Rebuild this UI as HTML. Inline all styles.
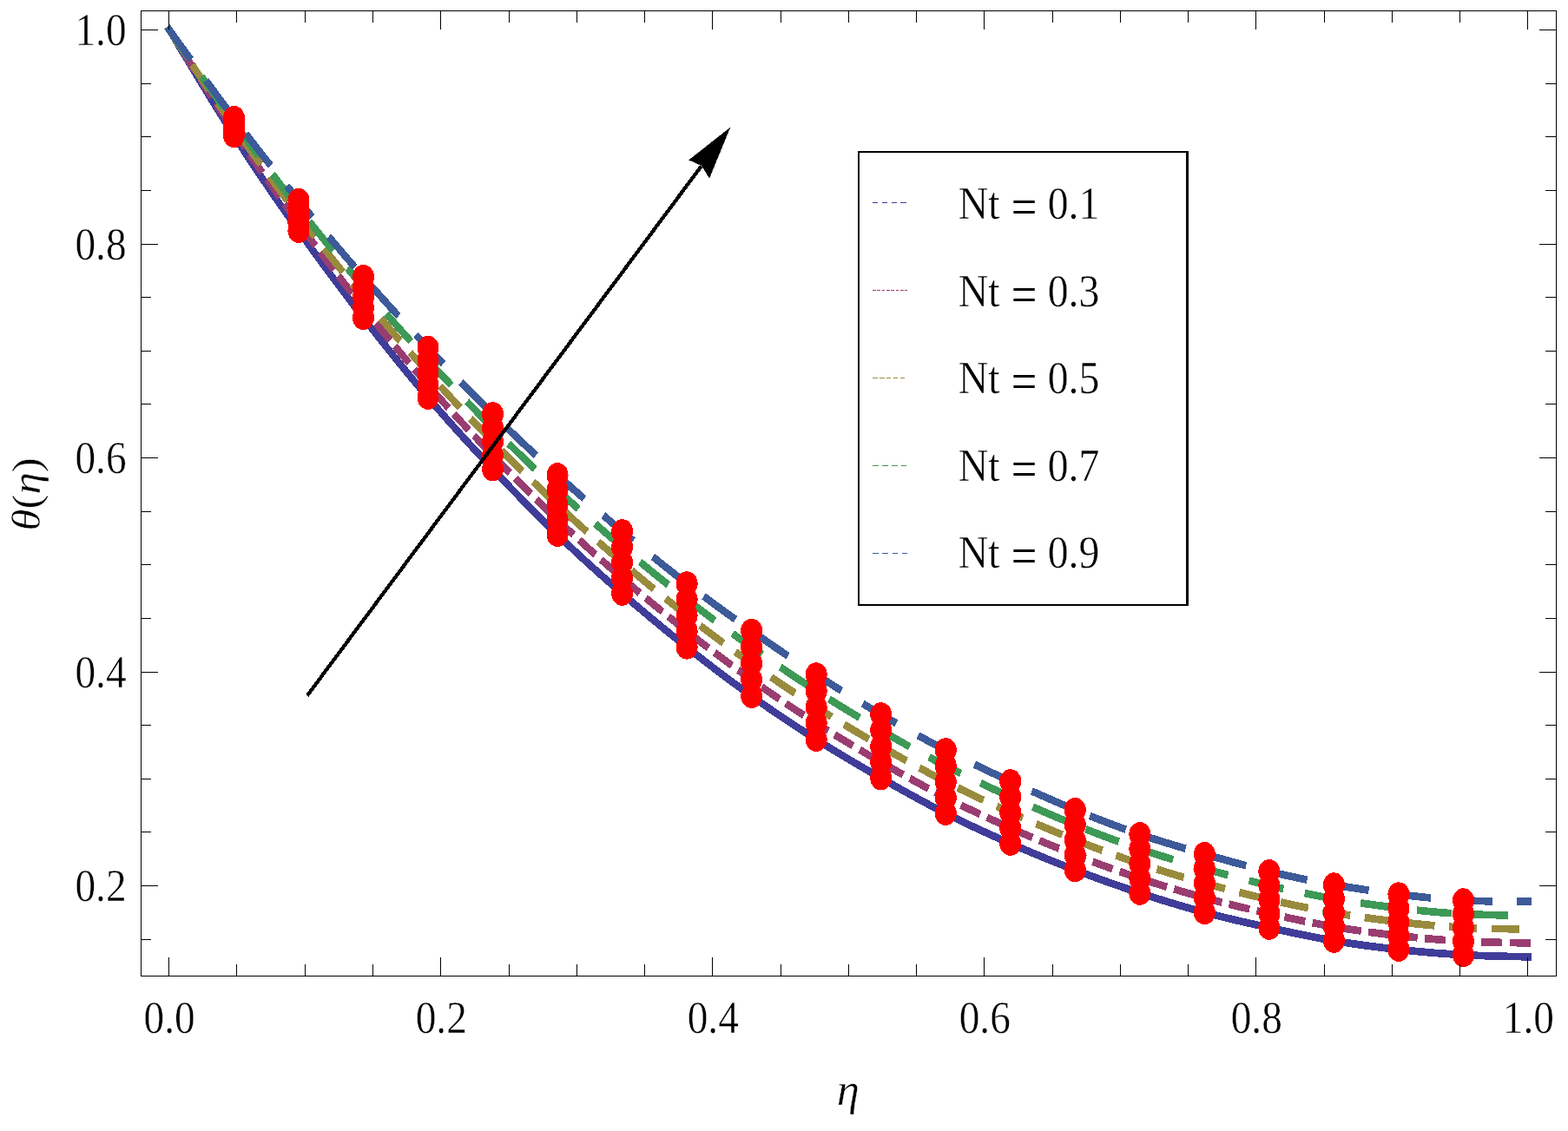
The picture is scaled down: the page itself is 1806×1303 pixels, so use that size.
<!DOCTYPE html>
<html lang="en"><head><meta charset="utf-8">
<style>
html,body{margin:0;padding:0;background:#fff;}
body{width:1806px;height:1303px;overflow:hidden;font-family:"Liberation Serif","DejaVu Serif",serif;}
svg{display:block;}
</style></head><body>
<svg width="1806" height="1303" viewBox="0 0 1806 1303">
<rect width="1806" height="1303" fill="#fff"/>
<g transform="scale(0.9,1)">
<g fill="none" stroke-linecap="butt" stroke-linejoin="round" shape-rendering="crispEdges" stroke-width="8.7">
<path stroke="#3F3D99" d="M214.14 30.68 L218.77 37.62 L220.99 40.95 L223.20 44.27 L225.42 47.60 L227.63 50.92 L229.85 54.25 L232.07 57.57 L234.29 60.89 L236.51 64.21 L238.73 67.53 L240.95 70.85 L243.17 74.17 L245.40 77.49 L247.63 80.81 L249.85 84.12 L252.09 87.43 L254.32 90.75 L256.56 94.06 L258.80 97.37 L261.04 100.67 L263.28 103.98 L265.53 107.28 L267.78 110.58 L270.03 113.88 L272.29 117.17 L274.55 120.47 L276.82 123.76 L279.09 127.05 L281.36 130.33 L283.64 133.61 L285.92 136.89 L288.21 140.17 L290.50 143.44 L292.79 146.71 L295.10 149.97 L297.40 153.24 L299.72 156.49 L302.03 159.75 L304.36 163.00 L306.69 166.24 L309.03 169.48 L311.37 172.72 L313.71 175.95 L316.07 179.18 L318.42 182.40 L320.79 185.62 L323.16 188.84 L325.53 192.05 L327.91 195.26 L330.30 198.47 L332.69 201.67 L335.08 204.87 L337.48 208.06 L339.89 211.25 L342.30 214.43 L344.71 217.62 L347.13 220.80 L349.56 223.97 L351.99 227.14 L354.42 230.31 L356.86 233.47 L359.30 236.63 L361.75 239.79 L364.20 242.94 L366.66 246.09 L369.12 249.24 L371.58 252.39 L374.05 255.53 L376.53 258.66 L379.00 261.80 L381.48 264.93 L383.97 268.06 L386.46 271.18 L388.95 274.30 L391.44 277.42 L393.94 280.54 L396.45 283.65 L398.95 286.76 L401.46 289.87 L403.98 292.97 L406.50 296.08 L409.02 299.17 L411.54 302.27 L414.07 305.36 L416.61 308.45 L419.14 311.54 L421.69 314.62 L424.23 317.70 L426.78 320.77 L429.33 323.85 L431.89 326.92 L434.45 329.98 L437.01 333.05 L439.58 336.11 L442.15 339.17 L444.72 342.22 L447.30 345.27 L449.88 348.32 L452.47 351.37 L455.06 354.41 L457.65 357.45 L460.25 360.48 L462.85 363.51 L465.45 366.54 L468.06 369.57 L470.67 372.59 L473.29 375.61 L475.91 378.63 L478.53 381.64 L481.16 384.65 L483.79 387.65 L486.43 390.66 L489.07 393.65 L491.71 396.65 L494.36 399.64 L497.01 402.62 L499.67 405.61 L502.33 408.58 L505.00 411.56 L507.67 414.53 L510.35 417.49 L513.03 420.45 L515.72 423.41 L518.41 426.36 L521.10 429.31 L523.81 432.25 L526.51 435.19 L529.23 438.12 L531.94 441.05 L534.67 443.97 L537.40 446.89 L540.13 449.80 L542.87 452.71 L545.62 455.61 L548.37 458.50 L551.13 461.39 L553.89 464.28 L556.66 467.15 L559.43 470.02 L562.21 472.89 L564.99 475.74 L567.78 478.59 L570.57 481.44 L573.37 484.28 L576.17 487.12 L578.98 489.95 L581.80 492.78 L584.61 495.60 L587.44 498.41 L590.27 501.23 L593.10 504.03 L595.94 506.83 L598.78 509.63 L601.63 512.42 L604.48 515.21 L607.33 518.00 L610.19 520.78 L613.06 523.55 L615.92 526.32 L618.79 529.09 L621.67 531.86 L624.55 534.62 L627.43 537.37 L630.32 540.13 L633.20 542.88 L636.10 545.62 L638.99 548.36 L641.89 551.10 L644.79 553.84 L647.70 556.57 L650.61 559.29 L653.52 562.02 L656.44 564.74 L659.36 567.45 L662.29 570.16 L665.22 572.86 L668.15 575.56 L671.09 578.26 L674.04 580.95 L676.98 583.64 L679.94 586.32 L682.89 588.99 L685.85 591.66 L688.82 594.33 L691.79 596.98 L694.77 599.64 L697.75 602.28 L700.74 604.93 L703.74 607.56 L706.73 610.19 L709.74 612.81 L712.75 615.43 L715.77 618.03 L718.79 620.64 L721.81 623.23 L724.85 625.82 L727.89 628.40 L730.93 630.97 L733.98 633.54 L737.04 636.10 L740.10 638.66 L743.16 641.21 L746.24 643.75 L749.31 646.29 L752.39 648.82 L755.48 651.34 L758.57 653.86 L761.67 656.37 L764.77 658.88 L767.87 661.38 L770.99 663.88 L774.10 666.37 L777.22 668.85 L780.34 671.33 L783.47 673.80 L786.60 676.27 L789.74 678.73 L792.88 681.19 L796.02 683.64 L799.17 686.09 L802.32 688.53 L805.47 690.97 L808.63 693.40 L811.80 695.83 L814.96 698.25 L818.13 700.67 L821.31 703.09 L824.49 705.49 L827.67 707.90 L830.85 710.29 L834.04 712.69 L837.24 715.08 L840.44 717.46 L843.65 719.85 L846.86 722.22 L850.07 724.59 L853.29 726.96 L856.51 729.32 L859.73 731.67 L862.96 734.02 L866.19 736.37 L869.43 738.70 L872.67 741.04 L875.91 743.37 L879.16 745.69 L882.41 748.01 L885.66 750.32 L888.92 752.63 L892.19 754.93 L895.45 757.22 L898.72 759.51 L902.00 761.80 L905.28 764.08 L908.56 766.35 L911.85 768.62 L915.14 770.88 L918.44 773.13 L921.74 775.38 L925.04 777.62 L928.35 779.85 L931.66 782.08 L934.98 784.30 L938.30 786.51 L941.63 788.72 L944.96 790.92 L948.30 793.11 L951.64 795.30 L954.99 797.47 L958.34 799.64 L961.70 801.81 L965.06 803.96 L968.42 806.11 L971.79 808.25 L975.17 810.38 L978.55 812.50 L981.94 814.62 L985.33 816.73 L988.72 818.83 L992.12 820.92 L995.53 823.00 L998.94 825.08 L1002.35 827.15 L1005.77 829.21 L1009.20 831.26 L1012.63 833.31 L1016.06 835.35 L1019.50 837.38 L1022.94 839.40 L1026.39 841.41 L1029.84 843.42 L1033.30 845.41 L1036.76 847.40 L1040.23 849.39 L1043.70 851.36 L1047.17 853.33 L1050.65 855.28 L1054.13 857.23 L1057.62 859.18 L1061.11 861.11 L1064.61 863.04 L1068.11 864.96 L1071.61 866.88 L1075.12 868.79 L1078.63 870.69 L1082.14 872.58 L1085.66 874.47 L1089.18 876.35 L1092.71 878.23 L1096.23 880.10 L1099.76 881.97 L1103.29 883.83 L1106.83 885.69 L1110.37 887.54 L1113.91 889.38 L1117.46 891.23 L1121.00 893.07 L1124.55 894.90 L1128.11 896.73 L1131.66 898.56 L1135.22 900.38 L1138.77 902.20 L1142.34 904.02 L1145.90 905.82 L1149.46 907.63 L1153.03 909.43 L1156.61 911.22 L1160.18 913.00 L1163.76 914.78 L1167.34 916.56 L1170.93 918.32 L1174.51 920.08 L1178.11 921.83 L1181.70 923.57 L1185.30 925.30 L1188.91 927.03 L1192.52 928.74 L1196.13 930.45 L1199.75 932.14 L1203.38 933.83 L1207.00 935.50 L1210.64 937.17 L1214.28 938.82 L1217.92 940.46 L1221.57 942.09 L1225.22 943.71 L1228.88 945.32 L1232.54 946.92 L1236.21 948.50 L1239.88 950.08 L1243.56 951.65 L1247.24 953.21 L1250.92 954.76 L1254.61 956.30 L1258.30 957.83 L1262.00 959.35 L1265.69 960.87 L1269.40 962.37 L1273.10 963.87 L1276.81 965.36 L1280.52 966.84 L1284.23 968.32 L1287.95 969.79 L1291.67 971.25 L1295.39 972.70 L1299.12 974.15 L1302.84 975.59 L1306.57 977.03 L1310.30 978.46 L1314.04 979.88 L1317.78 981.30 L1321.52 982.71 L1325.26 984.11 L1329.00 985.51 L1332.75 986.89 L1336.50 988.28 L1340.25 989.65 L1344.01 991.02 L1347.76 992.38 L1351.52 993.73 L1355.29 995.08 L1359.05 996.42 L1362.82 997.75 L1366.59 999.07 L1370.36 1000.39 L1374.14 1001.70 L1377.92 1003.00 L1381.70 1004.29 L1385.48 1005.58 L1389.27 1006.86 L1393.07 1008.13 L1396.88 1009.40 L1400.68 1010.65 L1404.49 1011.90 L1408.30 1013.15 L1412.11 1014.38 L1415.93 1015.61 L1419.75 1016.83 L1423.57 1018.04 L1427.39 1019.25 L1431.22 1020.45 L1435.04 1021.63 L1438.87 1022.82 L1442.71 1023.99 L1446.54 1025.16 L1450.38 1026.32 L1454.22 1027.47 L1458.06 1028.61 L1461.90 1029.75 L1465.75 1030.87 L1469.60 1031.99 L1473.45 1033.11 L1477.30 1034.21 L1481.16 1035.31 L1485.02 1036.39 L1488.88 1037.47 L1492.74 1038.54 L1496.61 1039.60 L1500.48 1040.65 L1504.35 1041.69 L1508.22 1042.72 L1512.10 1043.74 L1515.98 1044.75 L1519.86 1045.74 L1523.74 1046.73 L1527.63 1047.71 L1531.52 1048.68 L1535.41 1049.63 L1539.31 1050.57 L1543.21 1051.51 L1547.11 1052.42 L1551.02 1053.33 L1554.92 1054.23 L1558.83 1055.12 L1562.74 1056.00 L1566.66 1056.86 L1570.57 1057.72 L1574.49 1058.57 L1578.41 1059.41 L1582.33 1060.25 L1586.25 1061.07 L1590.18 1061.89 L1594.10 1062.71 L1598.03 1063.51 L1601.96 1064.32 L1605.88 1065.11 L1609.81 1065.91 L1613.74 1066.69 L1617.67 1067.48 L1621.60 1068.26 L1625.53 1069.04 L1629.46 1069.82 L1633.39 1070.59 L1637.33 1071.36 L1641.26 1072.13 L1645.19 1072.89 L1649.13 1073.64 L1653.06 1074.40 L1657.00 1075.14 L1660.94 1075.88 L1664.88 1076.61 L1668.82 1077.33 L1672.76 1078.04 L1676.71 1078.75 L1680.65 1079.44 L1684.60 1080.13 L1688.55 1080.80 L1692.50 1081.46 L1696.46 1082.11 L1700.41 1082.75 L1704.37 1083.37 L1708.33 1083.98 L1712.30 1084.58 L1716.26 1085.16 L1720.23 1085.73 L1724.19 1086.29 L1728.16 1086.83 L1732.14 1087.36 L1736.11 1087.88 L1740.08 1088.39 L1744.06 1088.89 L1748.04 1089.37 L1752.02 1089.85 L1756.00 1090.31 L1759.98 1090.76 L1763.96 1091.21 L1767.94 1091.64 L1771.93 1092.07 L1775.91 1092.49 L1779.90 1092.90 L1783.88 1093.30 L1787.87 1093.70 L1791.86 1094.09 L1795.85 1094.47 L1799.84 1094.84 L1803.83 1095.21 L1807.82 1095.57 L1811.81 1095.92 L1815.80 1096.26 L1819.80 1096.60 L1823.79 1096.92 L1827.79 1097.24 L1831.78 1097.55 L1835.77 1097.84 L1839.76 1098.13 L1843.74 1098.41 L1847.73 1098.68 L1851.72 1098.93 L1855.71 1099.18 L1859.70 1099.41 L1863.69 1099.64 L1867.68 1099.85 L1871.67 1100.05 L1875.66 1100.24 L1879.65 1100.41 L1883.65 1100.58 L1887.64 1100.73 L1891.63 1100.88 L1895.63 1101.01 L1899.62 1101.14 L1903.61 1101.25 L1907.61 1101.36 L1911.60 1101.47 L1915.60 1101.56 L1919.59 1101.65 L1923.59 1101.74 L1927.59 1101.82 L1931.58 1101.90 L1935.58 1101.97 L1939.57 1102.04 L1943.57 1102.11 L1947.56 1102.17 L1951.56 1102.24 L1959.91 1102.37"/>
<path stroke="#993D71" d="M214.07 30.73 L218.69 37.37 L220.82 40.44 L222.96 43.50 L225.09 46.57 L227.23 49.64 L229.37 52.70 M234.73 60.39 L236.92 63.53 L239.11 66.67 L241.30 69.80 L243.49 72.93 L245.69 76.07 L247.88 79.20 L250.08 82.33 M255.47 90.00 L257.68 93.12 L259.89 96.25 L262.09 99.37 L264.31 102.49 L266.52 105.61 L268.74 108.72 L270.96 111.83 M276.42 119.46 L278.65 122.57 L280.88 125.67 L283.12 128.77 L285.36 131.87 L287.61 134.96 L289.86 138.05 L292.12 141.14 M297.67 148.70 L299.94 151.78 L302.22 154.85 L304.50 157.92 L306.78 160.98 L309.08 164.05 L311.37 167.10 L313.67 170.16 M319.34 177.63 L321.65 180.67 L323.98 183.71 L326.30 186.75 L328.63 189.78 L330.97 192.81 L333.31 195.83 L335.66 198.85 M341.42 206.25 L343.78 209.25 L346.15 212.26 L348.52 215.26 L350.89 218.26 L353.27 221.26 L355.65 224.25 L358.03 227.24 M363.90 234.56 L366.29 237.54 L368.70 240.51 L371.10 243.49 L373.51 246.46 L375.92 249.42 L378.34 252.39 L380.76 255.35 M386.71 262.60 L389.14 265.55 L391.57 268.50 L394.01 271.44 L396.45 274.39 L398.90 277.33 L401.35 280.26 L403.80 283.20 M409.83 290.38 L412.29 293.31 L414.76 296.23 L417.23 299.15 L419.70 302.07 L422.18 304.98 L424.66 307.89 L427.14 310.80 M433.25 317.91 L435.74 320.81 L438.24 323.71 L440.75 326.60 L443.25 329.49 L445.76 332.37 L448.27 335.25 L450.79 338.13 M456.97 345.18 L459.50 348.05 L462.03 350.92 L464.57 353.78 L467.11 356.64 L469.65 359.50 L472.19 362.35 L474.74 365.20 M481.01 372.18 L483.57 375.02 L486.13 377.86 L488.70 380.69 L491.28 383.52 L493.85 386.34 L496.43 389.17 L499.02 391.99 M505.37 398.88 L507.97 401.69 L510.57 404.49 L513.18 407.29 L515.79 410.08 L518.40 412.87 L521.02 415.66 L523.65 418.44 M530.10 425.24 L532.74 428.01 L535.38 430.78 L538.03 433.53 L540.68 436.29 L543.34 439.04 L546.00 441.78 L548.67 444.52 M555.23 451.22 L557.91 453.94 L560.59 456.66 L563.28 459.37 L565.98 462.08 L568.67 464.78 L571.38 467.47 L574.08 470.17 M580.74 476.75 L583.46 479.43 L586.19 482.10 L588.92 484.77 L591.65 487.43 L594.39 490.09 L597.13 492.75 L599.88 495.40 M606.63 501.89 L609.39 504.53 L612.15 507.16 L614.92 509.79 L617.69 512.42 L620.46 515.04 L623.24 517.66 L626.02 520.28 M632.85 526.67 L635.64 529.28 L638.44 531.88 L641.24 534.47 L644.04 537.07 L646.84 539.66 L649.65 542.24 L652.47 544.82 M659.38 551.13 L662.21 553.70 L665.03 556.26 L667.87 558.82 L670.71 561.37 L673.55 563.92 L676.39 566.47 L679.24 569.01 M686.25 575.22 L689.11 577.74 L691.98 580.26 L694.85 582.78 L697.73 585.28 L700.61 587.79 L703.50 590.29 L706.39 592.78 M713.49 598.87 L716.40 601.34 L719.31 603.81 L722.23 606.27 L725.15 608.73 L728.08 611.18 L731.01 613.63 L733.94 616.07 M741.16 622.03 L744.11 624.45 L747.06 626.87 L750.02 629.28 L752.98 631.69 L755.95 634.09 L758.92 636.49 L761.90 638.88 M769.21 644.72 L772.20 647.09 L775.19 649.46 L778.19 651.83 L781.19 654.19 L784.19 656.54 L787.20 658.89 L790.21 661.24 M797.61 666.97 L800.63 669.30 L803.66 671.63 L806.69 673.95 L809.72 676.27 L812.76 678.58 L815.80 680.89 L818.84 683.19 M826.31 688.82 L829.37 691.11 L832.43 693.40 L835.49 695.68 L838.56 697.95 L841.64 700.23 L844.71 702.49 L847.79 704.76 M855.36 710.28 L858.46 712.53 L861.55 714.77 L864.65 717.01 L867.76 719.24 L870.86 721.46 L873.98 723.68 L877.09 725.90 M884.74 731.31 L887.87 733.50 L891.00 735.70 L894.14 737.88 L897.28 740.06 L900.42 742.24 L903.57 744.41 L906.72 746.57 M914.46 751.86 L917.62 754.00 L920.79 756.14 L923.96 758.28 L927.13 760.41 L930.31 762.53 L933.49 764.64 L936.68 766.76 M944.51 771.91 L947.71 774.00 L950.91 776.08 L954.12 778.16 L957.33 780.23 L960.55 782.30 L963.77 784.36 L966.99 786.41 M974.91 791.42 L978.15 793.45 L981.39 795.48 L984.64 797.50 L987.89 799.51 L991.14 801.52 L994.40 803.52 L997.66 805.51 M1005.67 810.37 L1008.94 812.34 L1012.22 814.31 L1015.51 816.27 L1018.79 818.22 L1022.08 820.16 L1025.38 822.10 L1028.68 824.03 M1036.78 828.73 L1040.09 830.64 L1043.41 832.54 L1046.73 834.43 L1050.05 836.32 L1053.38 838.20 L1056.71 840.07 L1060.05 841.94 M1068.24 846.49 L1071.59 848.33 L1074.94 850.17 L1078.30 852.00 L1081.65 853.83 L1085.01 855.65 L1088.38 857.46 L1091.75 859.27 M1100.01 863.68 L1103.39 865.48 L1106.77 867.26 L1110.15 869.04 L1113.54 870.82 L1116.92 872.60 L1120.32 874.37 L1123.71 876.13 M1132.04 880.44 L1135.44 882.19 L1138.85 883.94 L1142.25 885.68 L1145.66 887.42 L1149.07 889.15 L1152.49 890.88 L1155.90 892.60 M1164.29 896.79 L1167.72 898.49 L1171.15 900.18 L1174.59 901.87 L1178.03 903.55 L1181.47 905.22 L1184.91 906.88 L1188.36 908.54 M1196.83 912.56 L1200.30 914.18 L1203.77 915.80 L1207.24 917.41 L1210.71 919.00 L1214.19 920.59 L1217.68 922.17 L1221.17 923.74 M1229.74 927.54 L1233.25 929.07 L1236.76 930.60 L1240.27 932.12 L1243.78 933.63 L1247.30 935.13 L1250.82 936.62 L1254.35 938.11 M1263.01 941.72 L1266.54 943.18 L1270.08 944.63 L1273.62 946.08 L1277.17 947.52 L1280.71 948.95 L1284.26 950.38 L1287.82 951.80 M1296.53 955.27 L1300.09 956.67 L1303.65 958.07 L1307.22 959.46 L1310.78 960.85 L1314.35 962.23 L1317.92 963.61 L1321.49 964.98 M1330.26 968.31 L1333.84 969.66 L1337.42 971.01 L1341.00 972.35 L1344.59 973.68 L1348.18 975.00 L1351.77 976.32 L1355.36 977.63 M1364.19 980.82 L1367.79 982.11 L1371.39 983.39 L1375.00 984.66 L1378.61 985.93 L1382.22 987.19 L1385.84 988.44 L1389.46 989.69 M1398.36 992.72 L1402.00 993.94 L1405.64 995.15 L1409.28 996.36 L1412.93 997.56 L1416.57 998.75 L1420.22 999.94 L1423.88 1001.12 M1432.84 1003.97 L1436.50 1005.12 L1440.17 1006.26 L1443.83 1007.39 L1447.50 1008.52 L1451.17 1009.64 L1454.84 1010.75 L1458.52 1011.85 M1467.54 1014.51 L1471.23 1015.58 L1474.91 1016.65 L1478.60 1017.71 L1482.30 1018.75 L1485.99 1019.79 L1489.69 1020.82 L1493.38 1021.85 M1502.46 1024.32 L1506.17 1025.31 L1509.88 1026.30 L1513.59 1027.27 L1517.30 1028.24 L1521.02 1029.20 L1524.74 1030.15 L1528.46 1031.09 M1537.59 1033.37 L1541.31 1034.28 L1545.04 1035.18 L1548.77 1036.08 L1552.51 1036.96 L1556.24 1037.84 L1559.98 1038.71 L1563.72 1039.58 M1572.89 1041.66 L1576.64 1042.50 L1580.39 1043.33 L1584.13 1044.15 L1587.88 1044.97 L1591.63 1045.78 L1595.39 1046.59 L1599.14 1047.38 M1608.35 1049.32 L1612.11 1050.10 L1615.86 1050.87 L1619.62 1051.64 L1623.38 1052.41 L1627.14 1053.17 L1630.90 1053.93 L1634.66 1054.68 M1643.89 1056.50 L1647.65 1057.23 L1651.42 1057.95 L1655.19 1058.67 L1658.96 1059.38 L1662.73 1060.09 L1666.50 1060.78 L1670.27 1061.47 M1679.53 1063.12 L1683.31 1063.78 L1687.09 1064.43 L1690.88 1065.06 L1694.66 1065.69 L1698.45 1066.31 L1702.23 1066.91 L1706.02 1067.50 M1715.32 1068.91 L1719.12 1069.46 L1722.92 1070.01 L1726.72 1070.54 L1730.52 1071.06 L1734.32 1071.57 L1738.12 1072.07 L1741.93 1072.56 M1751.26 1073.72 L1755.07 1074.18 L1758.88 1074.63 L1762.69 1075.07 L1766.50 1075.50 L1770.31 1075.93 L1774.12 1076.34 L1777.94 1076.75 M1787.29 1077.73 L1791.11 1078.12 L1794.93 1078.50 L1798.74 1078.87 L1802.56 1079.24 L1806.38 1079.60 L1810.20 1079.95 L1814.02 1080.30 M1823.39 1081.11 L1827.22 1081.43 L1831.04 1081.73 L1834.86 1082.03 L1838.67 1082.32 L1842.49 1082.59 L1846.31 1082.86 L1850.12 1083.12 M1859.49 1083.70 L1863.30 1083.92 L1867.13 1084.12 L1870.95 1084.31 L1874.77 1084.49 L1878.59 1084.66 L1882.41 1084.82 L1886.23 1084.96 M1895.61 1085.27 L1899.43 1085.39 L1903.26 1085.49 L1907.08 1085.58 L1910.91 1085.67 L1914.73 1085.75 L1918.56 1085.82 L1922.38 1085.89 M1931.76 1086.03 L1935.73 1086.09 L1939.69 1086.14 L1943.66 1086.19 L1947.62 1086.24 L1951.59 1086.28 L1958.54 1086.36"/>
<path stroke="#998B3D" d="M213.99 30.78 L218.87 37.48 L221.19 40.66 L223.50 43.84 L225.82 47.01 L228.13 50.19 L230.45 53.37 L232.77 56.55 L235.08 59.72 M245.96 74.59 L248.31 77.79 L250.66 81.00 L253.02 84.21 L255.38 87.41 L257.74 90.61 L260.10 93.81 L262.47 97.01 L264.84 100.21 L267.21 103.40 M278.23 118.16 L280.62 121.34 L283.01 124.52 L285.41 127.69 L287.81 130.86 L290.21 134.03 L292.62 137.20 L295.04 140.36 L297.46 143.52 L299.88 146.67 M311.17 161.22 L313.62 164.36 L316.08 167.48 L318.54 170.61 L321.01 173.73 L323.48 176.85 L325.95 179.96 L328.43 183.07 L330.92 186.18 L333.41 189.28 M344.99 203.60 L347.51 206.68 L350.03 209.76 L352.55 212.84 L355.08 215.91 L357.61 218.98 L360.14 222.04 L362.68 225.11 L365.23 228.16 L367.77 231.22 M379.61 245.32 L382.18 248.36 L384.76 251.40 L387.33 254.43 L389.91 257.46 L392.49 260.48 L395.08 263.51 L397.67 266.53 L400.26 269.54 L402.86 272.56 M414.93 286.46 L417.55 289.46 L420.17 292.45 L422.79 295.44 L425.42 298.43 L428.05 301.41 L430.69 304.39 L433.33 307.37 L435.97 310.34 L438.62 313.31 M450.92 327.02 L453.58 329.97 L456.25 332.92 L458.93 335.86 L461.61 338.80 L464.29 341.74 L466.98 344.68 L469.67 347.61 L472.36 350.53 L475.06 353.46 M487.59 366.95 L490.31 369.85 L493.03 372.75 L495.76 375.65 L498.49 378.54 L501.23 381.43 L503.97 384.32 L506.71 387.20 L509.46 390.07 L512.21 392.95 M525.00 406.19 L527.77 409.04 L530.55 411.89 L533.34 414.73 L536.12 417.57 L538.92 420.40 L541.71 423.23 L544.52 426.06 L547.32 428.88 L550.13 431.69 M563.19 444.65 L566.02 447.44 L568.85 450.22 L571.69 453.00 L574.54 455.77 L577.39 458.54 L580.24 461.30 L583.10 464.06 L585.96 466.81 L588.82 469.56 M602.14 482.24 L605.03 484.96 L607.92 487.68 L610.82 490.40 L613.72 493.11 L616.62 495.82 L619.53 498.53 L622.44 501.23 L625.36 503.92 L628.28 506.61 M641.84 519.02 L644.79 521.68 L647.73 524.35 L650.68 527.01 L653.64 529.66 L656.59 532.31 L659.56 534.96 L662.52 537.60 L665.49 540.24 L668.47 542.87 M682.29 554.99 L685.28 557.59 L688.29 560.19 L691.29 562.78 L694.30 565.37 L697.32 567.96 L700.34 570.54 L703.36 573.11 L706.39 575.68 L709.42 578.24 M723.52 590.04 L726.58 592.57 L729.64 595.10 L732.71 597.62 L735.78 600.14 L738.86 602.65 L741.94 605.15 L745.02 607.66 L748.11 610.15 L751.20 612.64 M765.57 624.10 L768.69 626.57 L771.80 629.03 L774.93 631.48 L778.05 633.93 L781.18 636.37 L784.32 638.81 L787.46 641.24 L790.60 643.67 L793.74 646.09 M808.34 657.25 L811.51 659.65 L814.68 662.05 L817.85 664.44 L821.03 666.82 L824.21 669.20 L827.39 671.57 L830.58 673.94 L833.77 676.30 L836.97 678.67 M851.82 689.53 L855.04 691.86 L858.27 694.18 L861.50 696.50 L864.73 698.82 L867.97 701.13 L871.21 703.43 L874.46 705.73 L877.71 708.02 L880.96 710.30 M896.08 720.80 L899.36 723.05 L902.64 725.30 L905.93 727.54 L909.22 729.77 L912.51 732.00 L915.81 734.22 L919.11 736.43 L922.42 738.64 L925.73 740.85 M941.10 750.97 L944.43 753.14 L947.76 755.30 L951.10 757.46 L954.45 759.61 L957.79 761.76 L961.14 763.90 L964.50 766.04 L967.85 768.17 L971.21 770.30 M986.82 780.05 L990.20 782.14 L993.59 784.23 L996.98 786.31 L1000.37 788.38 L1003.77 790.44 L1007.17 792.50 L1010.57 794.56 L1013.98 796.60 L1017.40 798.64 M1033.25 808.00 L1036.68 810.00 L1040.12 811.99 L1043.57 813.98 L1047.02 815.96 L1050.47 817.93 L1053.93 819.89 L1057.39 821.85 L1060.85 823.80 L1064.32 825.75 M1080.42 834.66 L1083.91 836.57 L1087.40 838.47 L1090.90 840.36 L1094.40 842.25 L1097.90 844.14 L1101.40 846.01 L1104.91 847.88 L1108.42 849.75 L1111.94 851.61 M1128.25 860.16 L1131.78 862.00 L1135.32 863.82 L1138.86 865.65 L1142.40 867.46 L1145.94 869.28 L1149.49 871.08 L1153.04 872.88 L1156.59 874.67 L1160.15 876.46 M1176.66 884.63 L1180.23 886.38 L1183.81 888.11 L1187.40 889.84 L1190.99 891.56 L1194.58 893.27 L1198.18 894.97 L1201.78 896.66 L1205.39 898.35 L1209.00 900.02 M1225.78 907.62 L1229.42 909.24 L1233.06 910.84 L1236.70 912.44 L1240.35 914.03 L1244.01 915.61 L1247.66 917.18 L1251.32 918.74 L1254.99 920.30 L1258.65 921.85 M1275.66 928.92 L1279.35 930.43 L1283.03 931.93 L1286.72 933.43 L1290.41 934.92 L1294.10 936.41 L1297.79 937.89 L1301.49 939.37 L1305.18 940.84 L1308.88 942.31 M1326.04 949.03 L1329.75 950.46 L1333.46 951.89 L1337.18 953.31 L1340.90 954.73 L1344.62 956.14 L1348.35 957.54 L1352.08 958.93 L1355.81 960.32 L1359.54 961.70 M1376.85 967.99 L1380.60 969.33 L1384.35 970.66 L1388.10 971.98 L1391.87 973.30 L1395.64 974.61 L1399.42 975.91 L1403.19 977.20 L1406.97 978.48 L1410.76 979.75 M1428.31 985.53 L1432.11 986.75 L1435.91 987.96 L1439.72 989.16 L1443.53 990.36 L1447.34 991.54 L1451.16 992.71 L1454.97 993.88 L1458.80 995.03 L1462.62 996.17 M1480.36 1001.33 L1484.20 1002.42 L1488.05 1003.50 L1491.89 1004.57 L1495.74 1005.63 L1499.59 1006.68 L1503.45 1007.72 L1507.30 1008.75 L1511.16 1009.78 L1515.02 1010.80 M1532.91 1015.40 L1536.79 1016.37 L1540.66 1017.34 L1544.54 1018.30 L1548.41 1019.25 L1552.29 1020.20 L1556.17 1021.13 L1560.05 1022.07 L1563.94 1022.99 L1567.82 1023.91 M1585.83 1028.06 L1589.72 1028.94 L1593.62 1029.81 L1597.52 1030.67 L1601.42 1031.52 L1605.32 1032.37 L1609.22 1033.22 L1613.12 1034.05 L1617.03 1034.88 L1620.93 1035.70 M1639.03 1039.39 L1642.94 1040.17 L1646.86 1040.94 L1650.77 1041.70 L1654.69 1042.45 L1658.61 1043.20 L1662.54 1043.93 L1666.46 1044.65 L1670.39 1045.37 L1674.31 1046.08 M1692.52 1049.21 L1696.45 1049.85 L1700.39 1050.49 L1704.33 1051.11 L1708.28 1051.73 L1712.22 1052.33 L1716.17 1052.92 L1720.12 1053.50 L1724.07 1054.06 L1728.02 1054.62 M1746.33 1057.06 L1750.29 1057.56 L1754.25 1058.05 L1758.21 1058.53 L1762.17 1059.01 L1766.13 1059.47 L1770.10 1059.93 L1774.06 1060.38 L1778.03 1060.82 L1782.00 1061.25 M1800.37 1063.17 L1804.34 1063.56 L1808.31 1063.95 L1812.28 1064.33 L1816.26 1064.69 L1820.23 1065.05 L1824.21 1065.40 L1828.18 1065.74 L1832.16 1066.07 L1836.13 1066.38 M1854.51 1067.69 L1858.48 1067.94 L1862.45 1068.17 L1866.43 1068.38 L1870.40 1068.59 L1874.38 1068.78 L1878.35 1068.95 L1882.33 1069.11 L1886.31 1069.25 L1890.28 1069.38 M1908.70 1069.85 L1912.68 1069.92 L1916.66 1069.98 L1920.64 1070.04 L1924.62 1070.09 L1928.60 1070.14 L1932.58 1070.18 L1936.56 1070.21 L1940.54 1070.25 L1944.51 1070.28"/>
<path stroke="#3D9956" d="M213.92 30.84 L218.79 37.23 L221.02 40.15 L223.26 43.08 L225.49 46.00 L227.73 48.93 L229.97 51.85 L232.20 54.78 L234.44 57.70 L236.68 60.62 L238.92 63.54 L241.16 66.47 M257.90 88.22 L260.19 91.18 L262.47 94.13 L264.76 97.08 L267.06 100.03 L269.35 102.98 L271.65 105.93 L273.95 108.88 L276.25 111.82 L278.56 114.76 L280.87 117.70 L283.18 120.63 L285.49 123.57 M302.60 145.03 L304.95 147.94 L307.30 150.85 L309.65 153.75 L312.01 156.65 L314.37 159.54 L316.74 162.44 L319.11 165.33 L321.48 168.21 L323.86 171.10 L326.24 173.98 L328.62 176.85 L331.01 179.73 M348.67 200.75 L351.09 203.60 L353.51 206.44 L355.93 209.29 L358.36 212.13 L360.79 214.96 L363.23 217.80 L365.67 220.63 L368.11 223.46 L370.55 226.28 L373.00 229.11 L375.45 231.93 L377.91 234.74 M396.03 255.36 L398.51 258.15 L401.00 260.95 L403.48 263.73 L405.97 266.52 L408.47 269.31 L410.96 272.09 L413.46 274.86 L415.96 277.64 L418.47 280.41 L420.98 283.18 L423.49 285.95 L426.00 288.71 M444.57 308.93 L447.11 311.67 L449.66 314.41 L452.21 317.14 L454.76 319.87 L457.31 322.60 L459.87 325.32 L462.43 328.04 L464.99 330.76 L467.56 333.48 L470.13 336.19 L472.71 338.90 L475.28 341.60 M494.32 361.38 L496.92 364.06 L499.53 366.74 L502.14 369.41 L504.76 372.08 L507.37 374.74 L510.00 377.41 L512.62 380.07 L515.25 382.72 L517.88 385.38 L520.52 388.03 L523.15 390.67 L525.79 393.32 M545.30 412.63 L547.97 415.24 L550.64 417.86 L553.32 420.47 L555.99 423.07 L558.67 425.67 L561.35 428.26 L564.04 430.85 L566.72 433.44 L569.42 436.02 L572.11 438.60 L574.81 441.18 L577.51 443.75 M597.46 462.54 L600.19 465.08 L602.92 467.62 L605.66 470.15 L608.40 472.68 L611.14 475.21 L613.89 477.73 L616.64 480.25 L619.40 482.77 L622.16 485.28 L624.92 487.79 L627.68 490.29 L630.45 492.79 M650.91 511.03 L653.71 513.49 L656.51 515.95 L659.31 518.41 L662.12 520.86 L664.94 523.31 L667.76 525.76 L670.58 528.20 L673.40 530.63 L676.23 533.07 L679.06 535.50 L681.89 537.92 L684.73 540.34 M705.69 557.99 L708.56 560.38 L711.43 562.76 L714.30 565.14 L717.18 567.51 L720.06 569.88 L722.95 572.24 L725.83 574.60 L728.73 576.96 L731.62 579.31 L734.52 581.66 L737.42 584.00 L740.33 586.34 M761.76 603.40 L764.70 605.71 L767.63 608.01 L770.57 610.31 L773.51 612.60 L776.46 614.89 L779.40 617.18 L782.35 619.46 L785.31 621.74 L788.26 624.01 L791.22 626.28 L794.19 628.55 L797.15 630.81 M819.03 647.30 L822.02 649.53 L825.01 651.75 L828.01 653.97 L831.01 656.19 L834.01 658.40 L837.03 660.61 L840.04 662.81 L843.06 665.01 L846.08 667.20 L849.11 669.39 L852.14 671.58 L855.17 673.76 M877.57 689.61 L880.63 691.74 L883.70 693.87 L886.78 695.99 L889.85 698.11 L892.93 700.22 L896.02 702.33 L899.11 704.43 L902.20 706.52 L905.29 708.61 L908.39 710.70 L911.49 712.78 L914.60 714.85 M937.51 729.94 L940.65 731.98 L943.78 734.01 L946.92 736.03 L950.06 738.05 L953.20 740.07 L956.35 742.08 L959.50 744.09 L962.65 746.09 L965.81 748.09 L968.96 750.08 L972.12 752.08 L975.29 754.06 M998.61 768.52 L1001.79 770.46 L1004.98 772.41 L1008.18 774.34 L1011.37 776.28 L1014.57 778.20 L1017.77 780.12 L1020.98 782.04 L1024.19 783.95 L1027.40 785.86 L1030.62 787.75 L1033.84 789.65 L1037.06 791.54 M1060.84 805.22 L1064.09 807.05 L1067.35 808.88 L1070.61 810.71 L1073.87 812.53 L1077.13 814.34 L1080.40 816.15 L1083.67 817.95 L1086.94 819.75 L1090.22 821.54 L1093.50 823.33 L1096.78 825.11 L1100.07 826.88 M1124.30 839.77 L1127.62 841.51 L1130.93 843.24 L1134.25 844.96 L1137.57 846.68 L1140.89 848.39 L1144.21 850.10 L1147.54 851.81 L1150.87 853.51 L1154.21 855.20 L1157.54 856.88 L1160.88 858.56 L1164.22 860.24 M1188.88 872.32 L1192.25 873.94 L1195.63 875.54 L1199.01 877.14 L1202.39 878.73 L1205.78 880.32 L1209.17 881.89 L1212.56 883.46 L1215.96 885.01 L1219.36 886.56 L1222.77 888.10 L1226.18 889.63 L1229.59 891.16 M1254.77 902.13 L1258.21 903.59 L1261.65 905.05 L1265.09 906.50 L1268.54 907.95 L1271.99 909.40 L1275.44 910.83 L1278.89 912.27 L1282.35 913.69 L1285.80 915.12 L1289.26 916.54 L1292.72 917.95 L1296.18 919.37 M1321.66 929.61 L1325.14 930.98 L1328.61 932.35 L1332.09 933.72 L1335.58 935.08 L1339.06 936.43 L1342.55 937.78 L1346.04 939.13 L1349.53 940.46 L1353.02 941.79 L1356.52 943.12 L1360.01 944.44 L1363.52 945.75 M1389.31 955.17 L1392.84 956.43 L1396.38 957.68 L1399.92 958.92 L1403.46 960.15 L1407.00 961.37 L1410.55 962.59 L1414.10 963.79 L1417.65 964.99 L1421.21 966.18 L1424.77 967.36 L1428.33 968.53 L1431.89 969.69 M1458.17 977.94 L1461.76 979.02 L1465.36 980.09 L1468.95 981.16 L1472.55 982.21 L1476.15 983.25 L1479.76 984.28 L1483.36 985.31 L1486.97 986.33 L1490.59 987.33 L1494.20 988.33 L1497.82 989.33 L1501.43 990.31 M1528.06 997.34 L1531.70 998.28 L1535.33 999.21 L1538.96 1000.13 L1542.60 1001.05 L1546.23 1001.97 L1549.87 1002.88 L1553.51 1003.78 L1557.15 1004.69 L1560.79 1005.58 L1564.43 1006.48 L1568.08 1007.36 L1571.72 1008.24 M1598.54 1014.53 L1602.20 1015.36 L1605.85 1016.18 L1609.51 1016.99 L1613.18 1017.80 L1616.84 1018.60 L1620.50 1019.39 L1624.17 1020.17 L1627.84 1020.94 L1631.51 1021.71 L1635.18 1022.46 L1638.85 1023.21 L1642.52 1023.95 M1669.57 1029.10 L1673.26 1029.76 L1676.95 1030.42 L1680.64 1031.07 L1684.34 1031.70 L1688.03 1032.33 L1691.73 1032.95 L1695.43 1033.56 L1699.13 1034.16 L1702.83 1034.75 L1706.53 1035.33 L1710.24 1035.90 L1713.94 1036.47 M1741.20 1040.33 L1744.92 1040.82 L1748.63 1041.31 L1752.35 1041.78 L1756.07 1042.25 L1759.79 1042.71 L1763.51 1043.17 L1767.23 1043.62 L1770.96 1044.06 L1774.68 1044.49 L1778.40 1044.92 L1782.13 1045.34 L1785.85 1045.75 M1813.24 1048.60 L1816.97 1048.96 L1820.70 1049.31 L1824.44 1049.64 L1828.17 1049.97 L1831.91 1050.29 L1835.63 1050.60 L1839.36 1050.90 L1843.09 1051.18 L1846.82 1051.46 L1850.55 1051.72 L1854.28 1051.97 L1858.01 1052.20 M1885.44 1053.51 L1889.17 1053.63 L1892.91 1053.73 L1896.65 1053.83 L1900.38 1053.92 L1904.12 1053.99 L1907.86 1054.06 L1911.60 1054.12 L1915.33 1054.17 L1919.07 1054.21 L1922.81 1054.24 L1926.55 1054.27 L1930.29 1054.30"/>
<path stroke="#3D5A99" d="M213.83 30.91 L218.86 37.17 L221.16 40.03 L223.46 42.90 L225.76 45.76 L228.06 48.63 L230.37 51.49 L232.67 54.36 L234.97 57.22 L237.28 60.09 L239.58 62.95 L241.89 65.81 L244.20 68.67 M263.75 92.81 L266.10 95.70 L268.46 98.59 L270.82 101.48 L273.18 104.36 L275.54 107.25 L277.91 110.13 L280.28 113.01 L282.65 115.88 L285.02 118.76 L287.40 121.63 L289.77 124.50 L292.16 127.37 L294.54 130.23 M314.56 153.99 L316.97 156.82 L319.39 159.66 L321.82 162.49 L324.25 165.32 L326.68 168.14 L329.11 170.97 L331.55 173.79 L333.99 176.60 L336.44 179.42 L338.89 182.23 L341.34 185.04 L343.79 187.84 L346.25 190.64 M366.85 213.89 L369.34 216.67 L371.83 219.44 L374.32 222.21 L376.82 224.98 L379.32 227.75 L381.82 230.51 L384.32 233.27 L386.83 236.03 L389.34 238.78 L391.86 241.53 L394.37 244.28 L396.89 247.03 L399.41 249.78 M420.55 272.54 L423.10 275.26 L425.66 277.97 L428.21 280.68 L430.77 283.39 L433.34 286.10 L435.90 288.80 L438.47 291.50 L441.04 294.20 L443.62 296.90 L446.20 299.59 L448.78 302.27 L451.37 304.96 L453.95 307.64 M475.65 329.87 L478.27 332.52 L480.89 335.17 L483.52 337.82 L486.14 340.46 L488.78 343.10 L491.41 345.74 L494.05 348.37 L496.69 351.00 L499.33 353.63 L501.98 356.26 L504.63 358.88 L507.28 361.50 L509.93 364.11 M532.18 385.80 L534.86 388.39 L537.54 390.97 L540.23 393.56 L542.92 396.14 L545.61 398.71 L548.31 401.29 L551.00 403.86 L553.70 406.43 L556.41 409.00 L559.11 411.56 L561.81 414.11 L564.52 416.67 L567.23 419.22 M589.92 440.35 L592.66 442.87 L595.40 445.39 L598.14 447.90 L600.89 450.41 L603.64 452.92 L606.40 455.42 L609.15 457.92 L611.91 460.41 L614.68 462.90 L617.45 465.39 L620.22 467.87 L623.00 470.35 L625.77 472.82 M649.09 493.27 L651.90 495.70 L654.72 498.13 L657.54 500.56 L660.37 502.98 L663.19 505.40 L666.03 507.81 L668.86 510.22 L671.70 512.62 L674.54 515.02 L677.39 517.42 L680.24 519.81 L683.09 522.20 L685.95 524.59 M709.87 544.31 L712.75 546.66 L715.64 549.01 L718.53 551.35 L721.42 553.69 L724.32 556.03 L727.22 558.36 L730.12 560.69 L733.02 563.02 L735.93 565.34 L738.84 567.66 L741.75 569.97 L744.67 572.28 L747.59 574.59 M772.02 593.68 L774.96 595.96 L777.91 598.23 L780.86 600.49 L783.81 602.76 L786.77 605.01 L789.73 607.27 L792.69 609.52 L795.65 611.77 L798.62 614.01 L801.59 616.26 L804.56 618.49 L807.54 620.73 L810.52 622.95 M835.47 641.37 L838.48 643.56 L841.50 645.75 L844.52 647.93 L847.54 650.10 L850.57 652.28 L853.60 654.44 L856.63 656.60 L859.67 658.76 L862.71 660.91 L865.76 663.05 L868.81 665.19 L871.87 667.33 L874.92 669.46 M900.57 686.96 L903.66 689.03 L906.76 691.10 L909.86 693.17 L912.97 695.22 L916.08 697.28 L919.19 699.33 L922.30 701.37 L925.42 703.41 L928.54 705.45 L931.66 707.48 L934.79 709.50 L937.92 711.52 L941.05 713.54 M967.24 730.21 L970.40 732.20 L973.55 734.18 L976.71 736.16 L979.87 738.13 L983.03 740.10 L986.19 742.07 L989.36 744.03 L992.53 745.99 L995.70 747.94 L998.88 749.89 L1002.05 751.84 L1005.23 753.78 L1008.41 755.72 M1035.05 771.67 L1038.26 773.56 L1041.47 775.44 L1044.69 777.32 L1047.91 779.20 L1051.14 781.06 L1054.36 782.92 L1057.59 784.78 L1060.83 786.63 L1064.07 788.47 L1067.31 790.31 L1070.55 792.14 L1073.80 793.97 L1077.05 795.79 M1104.26 810.74 L1107.54 812.50 L1110.82 814.27 L1114.11 816.03 L1117.40 817.78 L1120.69 819.53 L1123.99 821.27 L1127.29 823.01 L1130.59 824.74 L1133.89 826.47 L1137.20 828.19 L1140.51 829.91 L1143.83 831.62 L1147.14 833.32 M1174.90 847.28 L1178.25 848.93 L1181.60 850.56 L1184.95 852.19 L1188.31 853.82 L1191.67 855.43 L1195.04 857.04 L1198.41 858.64 L1201.78 860.23 L1205.15 861.82 L1208.53 863.39 L1211.92 864.96 L1215.30 866.52 L1218.69 868.07 M1247.08 880.72 L1250.50 882.20 L1253.92 883.68 L1257.35 885.16 L1260.78 886.63 L1264.21 888.09 L1267.64 889.55 L1271.07 891.00 L1274.51 892.45 L1277.95 893.89 L1281.38 895.34 L1284.83 896.77 L1288.27 898.20 L1291.71 899.63 M1320.47 911.41 L1323.93 912.80 L1327.39 914.19 L1330.85 915.58 L1334.32 916.96 L1337.78 918.33 L1341.25 919.70 L1344.72 921.07 L1348.19 922.43 L1351.67 923.78 L1355.15 925.12 L1358.63 926.46 L1362.11 927.80 L1365.59 929.13 M1394.76 939.91 L1398.28 941.17 L1401.80 942.42 L1405.33 943.67 L1408.86 944.90 L1412.39 946.13 L1415.93 947.34 L1419.47 948.55 L1423.01 949.75 L1426.56 950.94 L1430.11 952.12 L1433.66 953.29 L1437.22 954.44 L1440.78 955.59 M1470.57 964.75 L1474.16 965.80 L1477.75 966.83 L1481.35 967.86 L1484.95 968.88 L1488.55 969.90 L1492.15 970.90 L1495.76 971.90 L1499.36 972.88 L1502.97 973.87 L1506.59 974.84 L1510.20 975.81 L1513.81 976.77 L1517.43 977.73 M1547.60 985.56 L1551.22 986.49 L1554.85 987.42 L1558.47 988.34 L1562.10 989.25 L1565.72 990.17 L1569.35 991.08 L1572.98 991.98 L1576.61 992.88 L1580.24 993.77 L1583.88 994.66 L1587.51 995.54 L1591.15 996.42 L1594.79 997.28 M1625.18 1004.19 L1628.84 1004.97 L1632.49 1005.74 L1636.15 1006.50 L1639.82 1007.25 L1643.48 1008.00 L1647.15 1008.73 L1650.82 1009.45 L1654.49 1010.16 L1658.16 1010.86 L1661.83 1011.55 L1665.51 1012.24 L1669.19 1012.91 L1672.87 1013.57 M1703.59 1018.74 L1707.29 1019.32 L1710.98 1019.90 L1714.68 1020.46 L1718.37 1021.02 L1722.07 1021.56 L1725.77 1022.10 L1729.47 1022.63 L1733.18 1023.16 L1736.88 1023.67 L1740.58 1024.18 L1744.29 1024.68 L1747.99 1025.18 L1751.70 1025.67 M1782.63 1029.47 L1786.34 1029.89 L1790.06 1030.31 L1793.77 1030.73 L1797.49 1031.14 L1801.21 1031.54 L1804.93 1031.93 L1808.64 1032.32 L1812.36 1032.70 L1816.09 1033.07 L1819.81 1033.43 L1823.53 1033.78 L1827.25 1034.13 L1830.98 1034.46 M1861.97 1036.74 L1865.70 1036.95 L1869.42 1037.14 L1873.15 1037.32 L1876.87 1037.48 L1880.60 1037.63 L1884.32 1037.76 L1888.05 1037.87 L1891.78 1037.98 L1895.51 1038.07 L1899.23 1038.15 L1902.96 1038.21 L1906.69 1038.27 L1910.42 1038.32 M1941.50 1038.44 L1945.01 1038.43 L1948.53 1038.42 L1952.04 1038.41 L1959.91 1038.39"/>
</g>
<g fill="#FF0000" shape-rendering="crispEdges">
<ellipse cx="299.37" cy="156.00" rx="13.89" ry="14.0"/>
<ellipse cx="299.37" cy="151.00" rx="13.89" ry="14.0"/>
<ellipse cx="299.37" cy="146.00" rx="13.89" ry="14.0"/>
<ellipse cx="299.37" cy="141.00" rx="13.89" ry="14.0"/>
<ellipse cx="299.37" cy="136.00" rx="13.89" ry="14.0"/>
<ellipse cx="382.17" cy="265.80" rx="13.89" ry="14.0"/>
<ellipse cx="382.17" cy="257.07" rx="13.89" ry="14.0"/>
<ellipse cx="382.17" cy="248.35" rx="13.89" ry="14.0"/>
<ellipse cx="382.17" cy="239.62" rx="13.89" ry="14.0"/>
<ellipse cx="382.17" cy="230.90" rx="13.89" ry="14.0"/>
<ellipse cx="464.98" cy="366.00" rx="13.89" ry="14.0"/>
<ellipse cx="464.98" cy="354.25" rx="13.89" ry="14.0"/>
<ellipse cx="464.98" cy="342.50" rx="13.89" ry="14.0"/>
<ellipse cx="464.98" cy="330.75" rx="13.89" ry="14.0"/>
<ellipse cx="464.98" cy="319.00" rx="13.89" ry="14.0"/>
<ellipse cx="547.79" cy="457.90" rx="13.89" ry="14.0"/>
<ellipse cx="547.79" cy="443.62" rx="13.89" ry="14.0"/>
<ellipse cx="547.79" cy="429.35" rx="13.89" ry="14.0"/>
<ellipse cx="547.79" cy="415.07" rx="13.89" ry="14.0"/>
<ellipse cx="547.79" cy="400.80" rx="13.89" ry="14.0"/>
<ellipse cx="630.60" cy="540.40" rx="13.89" ry="14.0"/>
<ellipse cx="630.60" cy="524.58" rx="13.89" ry="14.0"/>
<ellipse cx="630.60" cy="508.75" rx="13.89" ry="14.0"/>
<ellipse cx="630.60" cy="492.93" rx="13.89" ry="14.0"/>
<ellipse cx="630.60" cy="477.10" rx="13.89" ry="14.0"/>
<ellipse cx="713.41" cy="616.00" rx="13.89" ry="14.0"/>
<ellipse cx="713.41" cy="598.80" rx="13.89" ry="14.0"/>
<ellipse cx="713.41" cy="581.60" rx="13.89" ry="14.0"/>
<ellipse cx="713.41" cy="564.40" rx="13.89" ry="14.0"/>
<ellipse cx="713.41" cy="547.20" rx="13.89" ry="14.0"/>
<ellipse cx="796.22" cy="683.80" rx="13.89" ry="14.0"/>
<ellipse cx="796.22" cy="665.90" rx="13.89" ry="14.0"/>
<ellipse cx="796.22" cy="648.00" rx="13.89" ry="14.0"/>
<ellipse cx="796.22" cy="630.10" rx="13.89" ry="14.0"/>
<ellipse cx="796.22" cy="612.20" rx="13.89" ry="14.0"/>
<ellipse cx="879.03" cy="745.60" rx="13.89" ry="14.0"/>
<ellipse cx="879.03" cy="727.27" rx="13.89" ry="14.0"/>
<ellipse cx="879.03" cy="708.95" rx="13.89" ry="14.0"/>
<ellipse cx="879.03" cy="690.62" rx="13.89" ry="14.0"/>
<ellipse cx="879.03" cy="672.30" rx="13.89" ry="14.0"/>
<ellipse cx="961.84" cy="801.90" rx="13.89" ry="14.0"/>
<ellipse cx="961.84" cy="783.12" rx="13.89" ry="14.0"/>
<ellipse cx="961.84" cy="764.35" rx="13.89" ry="14.0"/>
<ellipse cx="961.84" cy="745.57" rx="13.89" ry="14.0"/>
<ellipse cx="961.84" cy="726.80" rx="13.89" ry="14.0"/>
<ellipse cx="1044.65" cy="851.90" rx="13.89" ry="14.0"/>
<ellipse cx="1044.65" cy="833.25" rx="13.89" ry="14.0"/>
<ellipse cx="1044.65" cy="814.60" rx="13.89" ry="14.0"/>
<ellipse cx="1044.65" cy="795.95" rx="13.89" ry="14.0"/>
<ellipse cx="1044.65" cy="777.30" rx="13.89" ry="14.0"/>
<ellipse cx="1127.46" cy="896.40" rx="13.89" ry="14.0"/>
<ellipse cx="1127.46" cy="878.08" rx="13.89" ry="14.0"/>
<ellipse cx="1127.46" cy="859.75" rx="13.89" ry="14.0"/>
<ellipse cx="1127.46" cy="841.42" rx="13.89" ry="14.0"/>
<ellipse cx="1127.46" cy="823.10" rx="13.89" ry="14.0"/>
<ellipse cx="1210.27" cy="937.00" rx="13.89" ry="14.0"/>
<ellipse cx="1210.27" cy="918.80" rx="13.89" ry="14.0"/>
<ellipse cx="1210.27" cy="900.60" rx="13.89" ry="14.0"/>
<ellipse cx="1210.27" cy="882.40" rx="13.89" ry="14.0"/>
<ellipse cx="1210.27" cy="864.20" rx="13.89" ry="14.0"/>
<ellipse cx="1293.08" cy="971.80" rx="13.89" ry="14.0"/>
<ellipse cx="1293.08" cy="953.90" rx="13.89" ry="14.0"/>
<ellipse cx="1293.08" cy="936.00" rx="13.89" ry="14.0"/>
<ellipse cx="1293.08" cy="918.10" rx="13.89" ry="14.0"/>
<ellipse cx="1293.08" cy="900.20" rx="13.89" ry="14.0"/>
<ellipse cx="1375.89" cy="1002.30" rx="13.89" ry="14.0"/>
<ellipse cx="1375.89" cy="984.97" rx="13.89" ry="14.0"/>
<ellipse cx="1375.89" cy="967.65" rx="13.89" ry="14.0"/>
<ellipse cx="1375.89" cy="950.33" rx="13.89" ry="14.0"/>
<ellipse cx="1375.89" cy="933.00" rx="13.89" ry="14.0"/>
<ellipse cx="1458.70" cy="1028.80" rx="13.89" ry="14.0"/>
<ellipse cx="1458.70" cy="1011.90" rx="13.89" ry="14.0"/>
<ellipse cx="1458.70" cy="995.00" rx="13.89" ry="14.0"/>
<ellipse cx="1458.70" cy="978.10" rx="13.89" ry="14.0"/>
<ellipse cx="1458.70" cy="961.20" rx="13.89" ry="14.0"/>
<ellipse cx="1541.51" cy="1051.10" rx="13.89" ry="14.0"/>
<ellipse cx="1541.51" cy="1034.32" rx="13.89" ry="14.0"/>
<ellipse cx="1541.51" cy="1017.55" rx="13.89" ry="14.0"/>
<ellipse cx="1541.51" cy="1000.77" rx="13.89" ry="14.0"/>
<ellipse cx="1541.51" cy="984.00" rx="13.89" ry="14.0"/>
<ellipse cx="1624.32" cy="1068.80" rx="13.89" ry="14.0"/>
<ellipse cx="1624.32" cy="1052.60" rx="13.89" ry="14.0"/>
<ellipse cx="1624.32" cy="1036.40" rx="13.89" ry="14.0"/>
<ellipse cx="1624.32" cy="1020.20" rx="13.89" ry="14.0"/>
<ellipse cx="1624.32" cy="1004.00" rx="13.89" ry="14.0"/>
<ellipse cx="1707.13" cy="1083.80" rx="13.89" ry="14.0"/>
<ellipse cx="1707.13" cy="1067.67" rx="13.89" ry="14.0"/>
<ellipse cx="1707.13" cy="1051.55" rx="13.89" ry="14.0"/>
<ellipse cx="1707.13" cy="1035.42" rx="13.89" ry="14.0"/>
<ellipse cx="1707.13" cy="1019.30" rx="13.89" ry="14.0"/>
<ellipse cx="1789.94" cy="1093.90" rx="13.89" ry="14.0"/>
<ellipse cx="1789.94" cy="1078.00" rx="13.89" ry="14.0"/>
<ellipse cx="1789.94" cy="1062.10" rx="13.89" ry="14.0"/>
<ellipse cx="1789.94" cy="1046.20" rx="13.89" ry="14.0"/>
<ellipse cx="1789.94" cy="1030.30" rx="13.89" ry="14.0"/>
<ellipse cx="1872.75" cy="1100.10" rx="13.89" ry="14.0"/>
<ellipse cx="1872.75" cy="1084.40" rx="13.89" ry="14.0"/>
<ellipse cx="1872.75" cy="1068.70" rx="13.89" ry="14.0"/>
<ellipse cx="1872.75" cy="1053.00" rx="13.89" ry="14.0"/>
<ellipse cx="1872.75" cy="1037.30" rx="13.89" ry="14.0"/>
</g>
</g>
<g stroke="#000" stroke-width="1" fill="none" shape-rendering="crispEdges">
<rect x="162.5" y="12.5" width="1630.0" height="1112.0"/>
<path d="M194.5 12.5 v21.5 M194.5 1124.5 v-21.5 M272.5 12.5 v13.5 M272.5 1124.5 v-13.5 M351.5 12.5 v13.5 M351.5 1124.5 v-13.5 M429.5 12.5 v13.5 M429.5 1124.5 v-13.5 M507.5 12.5 v21.5 M507.5 1124.5 v-21.5 M586.5 12.5 v13.5 M586.5 1124.5 v-13.5 M664.5 12.5 v13.5 M664.5 1124.5 v-13.5 M742.5 12.5 v13.5 M742.5 1124.5 v-13.5 M820.5 12.5 v21.5 M820.5 1124.5 v-21.5 M899.5 12.5 v13.5 M899.5 1124.5 v-13.5 M977.5 12.5 v13.5 M977.5 1124.5 v-13.5 M1055.5 12.5 v13.5 M1055.5 1124.5 v-13.5 M1133.5 12.5 v21.5 M1133.5 1124.5 v-21.5 M1212.5 12.5 v13.5 M1212.5 1124.5 v-13.5 M1290.5 12.5 v13.5 M1290.5 1124.5 v-13.5 M1368.5 12.5 v13.5 M1368.5 1124.5 v-13.5 M1446.5 12.5 v21.5 M1446.5 1124.5 v-21.5 M1525.5 12.5 v13.5 M1525.5 1124.5 v-13.5 M1603.5 12.5 v13.5 M1603.5 1124.5 v-13.5 M1681.5 12.5 v13.5 M1681.5 1124.5 v-13.5 M1759.5 12.5 v21.5 M1759.5 1124.5 v-21.5 M162.5 34.5 h19.5 M1792.5 34.5 h-19.5 M162.5 96.5 h11.5 M1792.5 96.5 h-12.5 M162.5 157.5 h11.5 M1792.5 157.5 h-12.5 M162.5 219.5 h11.5 M1792.5 219.5 h-12.5 M162.5 281.5 h19.5 M1792.5 281.5 h-19.5 M162.5 342.5 h11.5 M1792.5 342.5 h-12.5 M162.5 404.5 h11.5 M1792.5 404.5 h-12.5 M162.5 465.5 h11.5 M1792.5 465.5 h-12.5 M162.5 527.5 h19.5 M1792.5 527.5 h-19.5 M162.5 589.5 h11.5 M1792.5 589.5 h-12.5 M162.5 650.5 h11.5 M1792.5 650.5 h-12.5 M162.5 712.5 h11.5 M1792.5 712.5 h-12.5 M162.5 774.5 h19.5 M1792.5 774.5 h-19.5 M162.5 835.5 h11.5 M1792.5 835.5 h-12.5 M162.5 897.5 h11.5 M1792.5 897.5 h-12.5 M162.5 958.5 h11.5 M1792.5 958.5 h-12.5 M162.5 1020.5 h19.5 M1792.5 1020.5 h-19.5 M162.5 1082.5 h11.5 M1792.5 1082.5 h-12.5"/>
</g>
<g transform="scale(0.9,1)" font-family="'Liberation Serif', 'DejaVu Serif', serif" fill="#000" stroke="#fff" stroke-width="0.45">
<g font-size="52.6">
<text x="216.9" y="1190.5" text-anchor="middle">0.0</text>
<text x="564.7" y="1190.5" text-anchor="middle">0.2</text>
<text x="912.5" y="1190.5" text-anchor="middle">0.4</text>
<text x="1260.3" y="1190.5" text-anchor="middle">0.6</text>
<text x="1608.1" y="1190.5" text-anchor="middle">0.8</text>
<text x="1955.9" y="1190.5" text-anchor="middle">1.0</text>
<text x="161.8" y="52.2" text-anchor="end">1.0</text>
<text x="161.8" y="298.7" text-anchor="end">0.8</text>
<text x="161.8" y="545.2" text-anchor="end">0.6</text>
<text x="161.8" y="791.7" text-anchor="end">0.4</text>
<text x="161.8" y="1038.2" text-anchor="end">0.2</text>
<text transform="translate(1085.4,1272.6) scale(1.11,1)" text-anchor="middle" font-style="italic">η</text>
<text transform="translate(51.4,569.4) scale(1,0.967) rotate(-90)" text-anchor="middle"><tspan font-style="italic">θ</tspan>(<tspan font-style="italic">η</tspan>)</text>
</g>
</g>
<g shape-rendering="crispEdges">
<rect x="988" y="174" width="381" height="524" fill="#fff"/>
<path d="M988 174H1369V698H988Z M990 176V696H1366V176Z" fill="#000" fill-rule="evenodd"/>
<path d="M1005 233.5 H1044" stroke="#3F3D99" stroke-width="1.2" stroke-dasharray="6.3 4.5" fill="none"/>
<path d="M1005 334.5 H1045" stroke="#993D71" stroke-width="1.2" stroke-dasharray="3.7 1.63" fill="none"/>
<path d="M1005 435.5 H1042.3" stroke="#998B3D" stroke-width="1.2" stroke-dasharray="5.6 2.3" fill="none"/>
<path d="M1005 536.5 H1044.3" stroke="#3D9956" stroke-width="1.2" stroke-dasharray="6.7 4.25" fill="none"/>
<path d="M1005 637.5 H1045" stroke="#3D5A99" stroke-width="1.2" stroke-dasharray="6.5 4.8" fill="none"/>
</g>
<g transform="scale(0.9,1)" font-family="'Liberation Serif', 'DejaVu Serif', serif" fill="#000" stroke="#fff" stroke-width="0.45">
<g font-size="53">
<text y="252.29999999999998" xml:space="preserve"><tspan x="1226.4">Nt </tspan><tspan x="1294.1" dy="6.0" font-size="58.3" stroke="none">= </tspan><tspan x="1340.8" dy="-6.0">0.1</tspan></text>
<text y="352.8" xml:space="preserve"><tspan x="1226.4">Nt </tspan><tspan x="1294.1" dy="6.0" font-size="58.3" stroke="none">= </tspan><tspan x="1340.8" dy="-6.0">0.3</tspan></text>
<text y="453.3" xml:space="preserve"><tspan x="1226.4">Nt </tspan><tspan x="1294.1" dy="6.0" font-size="58.3" stroke="none">= </tspan><tspan x="1340.8" dy="-6.0">0.5</tspan></text>
<text y="553.8000000000001" xml:space="preserve"><tspan x="1226.4">Nt </tspan><tspan x="1294.1" dy="6.0" font-size="58.3" stroke="none">= </tspan><tspan x="1340.8" dy="-6.0">0.7</tspan></text>
<text y="654.3000000000001" xml:space="preserve"><tspan x="1226.4">Nt </tspan><tspan x="1294.1" dy="6.0" font-size="58.3" stroke="none">= </tspan><tspan x="1340.8" dy="-6.0">0.9</tspan></text>
</g>
<g shape-rendering="crispEdges"><path d="M393.33 801.2 L897.78 191.1" stroke="#000" stroke-width="4.5" fill="none"/>
<path d="M935.22 146.0 L881.11 184.4 L897.78 191.1 L907.89 206.0 Z" fill="#000"/></g>
</g>
</svg>
</body></html>
